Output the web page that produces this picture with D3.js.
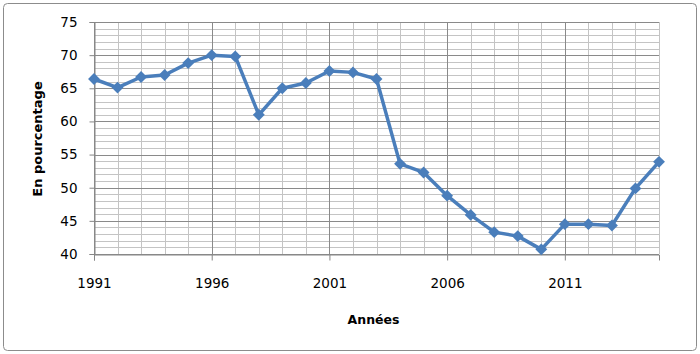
<!DOCTYPE html>
<html>
<head>
<meta charset="utf-8">
<script src="https://cdn.jsdelivr.net/npm/d3@7"></script>
<style>
  body { margin: 0; background: #fff; }
  svg { display: block; font-family: "DejaVu Sans", sans-serif; }
</style>
</head>
<body>
<div id="visualization"></div>
<script>
// Data
const years = d3.range(1991, 2016);
const values = [66.4, 65.1, 66.7, 67.0, 68.8, 70.0, 69.8, 61.0, 65.0, 65.8,
  67.6, 67.4, 66.4, 53.6, 52.3, 48.8, 45.9, 43.3, 42.7, 40.7,
  44.5, 44.5, 44.3, 49.9, 53.9];
const labelYears = [1991, 1996, 2001, 2006, 2011];
const yTicks = [40, 45, 50, 55, 60, 65, 70, 75];

const width = 700;
const height = 354;
const margin = { top: 22, right: 41, bottom: 100, left: 94 };

const svg = d3.select('#visualization')
  .append('svg')
  .attr('width', width)
  .attr('height', height);

// chart border
svg.append('rect')
  .attr('x', 3.5).attr('y', 3.5)
  .attr('width', width - 7).attr('height', height - 7)
  .attr('rx', 4)
  .attr('fill', '#fff')
  .attr('stroke', '#8c8c8c');

const x = d3.scaleLinear()
  .domain([1991, 2015])
  .range([margin.left, width - margin.right]);

const y = d3.scaleLinear()
  .domain([40, 75])
  .range([height - margin.bottom, margin.top]);

const grid = svg.append('g');

// minor horizontal gridlines
grid.selectAll('line.hminor')
  .data(d3.range(41, 75).filter(v => v % 5 !== 0))
  .join('line')
  .attr('x1', x(1991)).attr('x2', x(2015))
  .attr('y1', d => Math.round(y(d)) + 0.5).attr('y2', d => Math.round(y(d)) + 0.5)
  .attr('stroke', '#c4c4c4');

// minor vertical gridlines
grid.selectAll('line.vminor')
  .data(years.filter(yr => !labelYears.includes(yr)))
  .join('line')
  .attr('y1', y(40)).attr('y2', y(75))
  .attr('x1', d => Math.round(x(d)) + 0.5).attr('x2', d => Math.round(x(d)) + 0.5)
  .attr('stroke', '#c4c4c4');

// major gridlines
grid.selectAll('line.hmajor')
  .data(yTicks)
  .join('line')
  .attr('x1', x(1991)).attr('x2', x(2015))
  .attr('y1', d => Math.round(y(d)) + 0.5).attr('y2', d => Math.round(y(d)) + 0.5)
  .attr('stroke', '#8a8a8a');

grid.selectAll('line.vmajor')
  .data(labelYears)
  .join('line')
  .attr('y1', y(40)).attr('y2', y(75))
  .attr('x1', d => Math.round(x(d)) + 0.5).attr('x2', d => Math.round(x(d)) + 0.5)
  .attr('stroke', '#8a8a8a');

// axes
const yAxis = d3.axisLeft(y).tickValues(yTicks).tickSize(5).tickPadding(12);
const xAxis = d3.axisBottom(x).tickValues(labelYears).tickFormat(d3.format('d')).tickSize(6).tickPadding(18);

const gy = svg.append('g')
  .attr('transform', `translate(${Math.round(x(1991)) + 0.5},0)`)
  .call(yAxis);
const gx = svg.append('g')
  .attr('transform', `translate(0,${Math.round(y(40)) + 0.5})`)
  .call(xAxis);

[gy, gx].forEach(g => {
  g.select('.domain').attr('stroke', '#868686');
  g.selectAll('.tick line').attr('stroke', '#868686');
  g.selectAll('.tick text')
    .attr('fill', '#000')
    .style('font-size', '13.5px')
    .style('font-family', '"DejaVu Sans", sans-serif');
});

// series line
const line = d3.line()
  .x((d, i) => x(years[i]))
  .y(d => y(d));

svg.append('path')
  .datum(values)
  .attr('fill', 'none')
  .attr('stroke', '#4a7ebb')
  .attr('stroke-width', 3.5)
  .attr('stroke-linejoin', 'round')
  .attr('d', line);

svg.selectAll('path.marker')
  .data(values)
  .join('path')
  .attr('class', 'marker')
  .attr('d', d3.symbol().type(d3.symbolDiamond2).size(90))
  .attr('transform', (d, i) => `translate(${x(years[i])},${y(d)})`)
  .attr('fill', '#4a7ebb');

// axis titles
svg.append('text')
  .attr('transform', `translate(42,${(y(40) + y(75)) / 2 + 1}) rotate(-90)`)
  .attr('text-anchor', 'middle')
  .style('font-size', '13px')
  .style('font-weight', 'bold')
  .text('En pourcentage');

svg.append('text')
  .attr('x', (x(1991) + x(2015)) / 2 - 3)
  .attr('y', 324)
  .attr('text-anchor', 'middle')
  .style('font-size', '12.5px')
  .style('font-weight', 'bold')
  .text('Années');
</script>
</body>
</html>
